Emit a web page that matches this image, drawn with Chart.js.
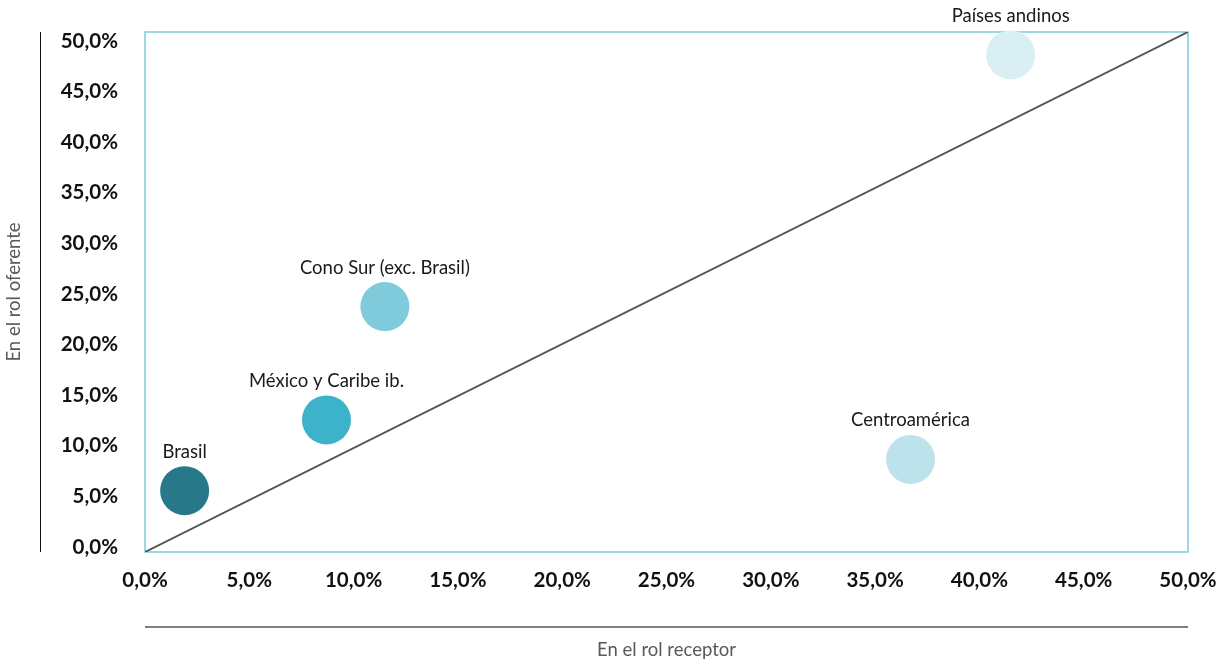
<!DOCTYPE html>
<html>
<head>
<meta charset="utf-8">
<script src="https://cdn.jsdelivr.net/npm/chart.js@4.4.1/dist/chart.umd.min.js"></script>
<style>
html,body{margin:0;padding:0;background:#fff;}
#wrap{width:1221px;height:664px;position:relative;}
</style>
</head>
<body>
<div id="wrap"><canvas id="c" width="1221" height="664"></canvas></div>
<script>
const regions = ["Brasil", "México y Caribe ib.", "Cono Sur (exc. Brasil)", "Centroamérica", "Países andinos"];
const receptorPct = [1.9, 8.7, 11.5, 36.7, 41.5];
const oferentePct = [5.9, 12.7, 23.6, 8.9, 47.8];
const bubbleColors = ["#27798a", "#3cb2cb", "#80cbdb", "#bce3eb", "#d9eff4"];
const diagonalX = [0, 50];
const diagonalY = [0, 50];
const xTitle = "En el rol receptor";
const yTitle = "En el rol oferente";

const fmt = v => v.toFixed(1).replace('.', ',') + '%';

const bubbleData = regions.map((r, i) => ({x: receptorPct[i], y: oferentePct[i], r: 24.5, label: r}));

const decor = {
  id: 'decor',
  beforeDatasetsDraw(chart) {
    const {ctx, chartArea: a} = chart;
    ctx.save();
    ctx.strokeStyle = '#7fcbdb';
    ctx.lineWidth = 1.5;
    ctx.strokeRect(a.left, a.top, a.right - a.left, a.bottom - a.top);
    ctx.restore();
  },
  afterDraw(chart) {
    const {ctx, chartArea: a} = chart;
    ctx.save();
    ctx.strokeStyle = '#111';
    ctx.lineWidth = 1;
    ctx.beginPath();
    ctx.moveTo(40.5, a.top);
    ctx.lineTo(40.5, a.bottom);
    ctx.stroke();
    ctx.strokeStyle = '#555';
    ctx.lineWidth = 1.5;
    ctx.beginPath();
    ctx.moveTo(a.left, 627);
    ctx.lineTo(a.right, 627);
    ctx.stroke();
    const meta = chart.getDatasetMeta(1);
    ctx.fillStyle = '#1a1a1a';
    ctx.font = '18.5px Lato';
    ctx.textAlign = 'center';
    ctx.textBaseline = 'middle';
    meta.data.forEach((el, i) => {
      ctx.fillText(regions[i], el.x, el.y - 39);
    });
    ctx.restore();
  }
};

const tickFont = {family: 'Lato', size: 20.5, weight: 'bold'};

new Chart(document.getElementById('c'), {
  type: 'bubble',
  data: {
    datasets: [
      {
        type: 'line',
        data: diagonalX.map((x, i) => ({x, y: diagonalY[i]})),
        borderColor: '#555555',
        borderWidth: 2,
        pointRadius: 0,
        fill: false,
        order: 2
      },
      {
        data: bubbleData,
        backgroundColor: bubbleColors,
        borderWidth: 0,
        clip: false,
        order: 1
      }
    ]
  },
  options: {
    responsive: false,
    animation: false,
    events: [],
    layout: {autoPadding: false, padding: {top: 32, right: 33, left: 0, bottom: 0}},
    plugins: {legend: {display: false}, tooltip: {enabled: false}},
    scales: {
      x: {
        type: 'linear', min: 0, max: 50,
        ticks: {stepSize: 5, callback: fmt, color: '#111', font: tickFont, padding: 16, maxRotation: 0},
        grid: {display: false, drawTicks: false},
        border: {display: false},
        title: {display: true, text: xTitle, color: '#595959', font: {family: 'Lato', size: 18.5}, padding: {top: 40, bottom: 3}},
        afterFit(s) { s.height = 112; s.paddingLeft = 0; s.paddingRight = 0; }
      },
      y: {
        type: 'linear', min: 0, max: 50, position: 'left', weight: 1,
        ticks: {display: false},
        grid: {display: false, drawTicks: false},
        border: {display: false},
        title: {display: true, text: yTitle, color: '#595959', font: {family: 'Lato', size: 18.5}, padding: {top: 3, bottom: 4}},
        afterFit(s) { s.width = 30; s.paddingTop = 0; s.paddingBottom = 0; }
      },
      yLab: {
        type: 'linear', min: -0.49, max: 50.89, position: 'left', weight: 0,
        ticks: {stepSize: 5, includeBounds: false, callback: fmt, color: '#111', font: tickFont, padding: 27},
        grid: {display: false, drawTicks: false},
        border: {display: false},
        afterFit(s) { s.width = 115; s.paddingTop = 0; s.paddingBottom = 0; }
      }
    }
  },
  plugins: [decor]
});
</script>
</body>
</html>
